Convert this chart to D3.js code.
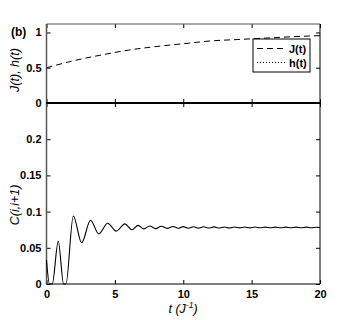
<!DOCTYPE html>
<html>
<head>
<meta charset="utf-8">
<script src="https://cdn.jsdelivr.net/npm/d3@7"></script>
<style>
body { margin: 0; background: #fff; }
text { font-family: "Liberation Sans", Arial, sans-serif; }
.tick text { font-size: 11px; font-weight: bold; fill: #000; }
.lab { font-size: 12.5px; font-style: italic; }
</style>
</head>
<body>
<div id="content"></div>
<script>
// J(t)
var tJ = [0, 2, 4, 6, 8, 10, 12, 14, 16, 18, 20];
var valJ = [0.50, 0.60, 0.68, 0.75, 0.80, 0.84, 0.88, 0.90, 0.92, 0.94, 0.955];
// h(t) sits on zero
var tH = [0, 20];
var valH = [0, 0];
// C(i,i+1) peaks / troughs
var tC = [0, 0.22, 0.42, 0.86, 1.25, 1.42, 1.96, 2.57, 3.22, 3.83, 4.47, 5.1, 5.73, 6.25, 6.7, 7.12, 7.55, 7.97, 8.4, 8.82, 9.25, 9.63,
  10.0, 10.37, 10.75, 11.12, 11.5, 11.87, 12.25, 12.62, 13.0, 13.37, 13.75, 14.12, 14.5, 14.87, 15.25, 15.62, 16.0, 16.37, 16.75,
  17.12, 17.5, 17.87, 18.25, 18.62, 19.0, 19.37, 19.75, 20];
var valC = [0.033, 0, 0, 0.059, 0, 0, 0.094, 0.057, 0.088, 0.069, 0.084, 0.073, 0.083, 0.075, 0.081, 0.0762, 0.0802, 0.0765, 0.0798, 0.0768, 0.0795, 0.0770,
  0.0792, 0.0771, 0.0791, 0.0772, 0.0790, 0.0773, 0.0789, 0.0773, 0.0788, 0.0774, 0.0788, 0.0775, 0.0787, 0.0775, 0.0787, 0.0776, 0.0786, 0.0776, 0.0786,
  0.0776, 0.0785, 0.0777, 0.0785, 0.0777, 0.0785, 0.0777, 0.0784, 0.078];

var xTicks = [0, 5, 10, 15, 20];
var topTicks = [0, 0.5, 1];
var botTicks = [0, 0.05, 0.1, 0.15, 0.2];

var width = 354, height = 320;
var svg = d3.select("#content").append("svg").attr("width", width).attr("height", height);

var x = d3.scaleLinear().domain([0, 20]).range([46.5, 320]);
var yTop = d3.scaleLinear().domain([0, 1.12]).range([103, 24]);
var yBot = d3.scaleLinear().domain([0, 0.25]).range([284, 103]);

function frame(y, ticks, fmt, showX) {
    var g = svg.append("g");
    var y0 = y.range()[0], y1 = y.range()[1];
    var left = g.append("g").attr("transform", "translate(46.5,0)")
        .call(d3.axisLeft(y).tickValues(ticks).tickSize(-4).tickPadding(5).tickFormat(fmt));
    var right = g.append("g").attr("transform", "translate(320,0)")
        .call(d3.axisRight(y).tickValues(ticks).tickSize(-4).tickFormat(""));
    var top = g.append("g").attr("transform", "translate(0," + y1 + ")")
        .call(d3.axisTop(x).tickValues(xTicks).tickSize(-4).tickFormat(""));
    var bot = g.append("g").attr("transform", "translate(0," + y0 + ")")
        .call(d3.axisBottom(x).tickValues(xTicks).tickSize(-4).tickPadding(6).tickFormat(showX ? d3.format("d") : ""));
    g.selectAll(".tick line").attr("stroke", "#000");
    [left, right, top, bot].forEach(function (a) { a.select("path.domain").remove(); });
    // box: left and top drawn a touch grey like the original
    g.append("line").attr("x1", 46.5).attr("x2", 46.5).attr("y1", y0).attr("y2", y1).attr("stroke", "#555").attr("stroke-width", 1.5);
    g.append("line").attr("x1", 46.5).attr("x2", 320).attr("y1", y1).attr("y2", y1).attr("stroke", "#555").attr("stroke-width", 1.2);
    g.append("line").attr("x1", 320).attr("x2", 320).attr("y1", y0).attr("y2", y1).attr("stroke", "#000");
    g.append("line").attr("x1", 46.5).attr("x2", 320).attr("y1", y0).attr("y2", y0).attr("stroke", "#000");
    return g;
}

frame(yTop, topTicks, function (d) { return d3.format("")(d); }, false);
frame(yBot, botTicks, function (d) { return d3.format("")(d); }, true);

// lines
var lineJ = d3.line().x(function (d) { return x(d[0]); }).y(function (d) { return yTop(d[1]); }).curve(d3.curveMonotoneX);
svg.append("path").datum(d3.zip(tJ, valJ)).attr("d", lineJ)
    .attr("fill", "none").attr("stroke", "#000").attr("stroke-width", 1).attr("stroke-dasharray", "6,4");

svg.append("path").datum(d3.zip(tH, valH)).attr("d", lineJ)
    .attr("fill", "none").attr("stroke", "#000").attr("stroke-width", 1).attr("stroke-dasharray", "1,2");

// thick zero line
svg.append("line").attr("x1", x(0)).attr("x2", x(20)).attr("y1", yTop(0)).attr("y2", yTop(0))
    .attr("stroke", "#000").attr("stroke-width", 2.2);

var lineC = d3.line().x(function (d) { return x(d[0]); }).y(function (d) { return yBot(d[1]); }).curve(d3.curveMonotoneX);
svg.append("path").datum(d3.zip(tC, valC)).attr("d", lineC)
    .attr("fill", "none").attr("stroke", "#000").attr("stroke-width", 1.1);

// legend
var lg = svg.append("g").attr("transform", "translate(253,39)");
lg.append("rect").attr("width", 57).attr("height", 33).attr("fill", "#fff").attr("stroke", "#000");
lg.append("line").attr("x1", 4).attr("x2", 33).attr("y1", 9.5).attr("y2", 9.5)
    .attr("stroke", "#000").attr("stroke-dasharray", "6,4");
lg.append("line").attr("x1", 4).attr("x2", 33).attr("y1", 23.5).attr("y2", 23.5)
    .attr("stroke", "#000").attr("stroke-dasharray", "1,2");
lg.append("text").attr("x", 36).attr("y", 13.5).attr("font-size", 11).attr("font-weight", "bold").text("J(t)");
lg.append("text").attr("x", 36).attr("y", 27.5).attr("font-size", 11).attr("font-weight", "bold").text("h(t)");

// labels
svg.append("text").attr("x", 11).attr("y", 36).attr("font-size", 12).attr("font-weight", "bold").text("(b)");

svg.append("text").attr("class", "lab").attr("transform", "translate(19,70) rotate(-90)")
    .style("text-anchor", "middle").text("J(t), h(t)");
svg.append("text").attr("class", "lab").attr("transform", "translate(19,205) rotate(-90)")
    .style("text-anchor", "middle").text("C(i,i+1)");

var xl = svg.append("text").attr("class", "lab").attr("x", 183).attr("y", 313).style("text-anchor", "middle");
xl.append("tspan").text("t (J");
xl.append("tspan").attr("dy", -5).attr("font-size", 8.5).text("-1");
xl.append("tspan").attr("dy", 5).text(")");
</script>
</body>
</html>
